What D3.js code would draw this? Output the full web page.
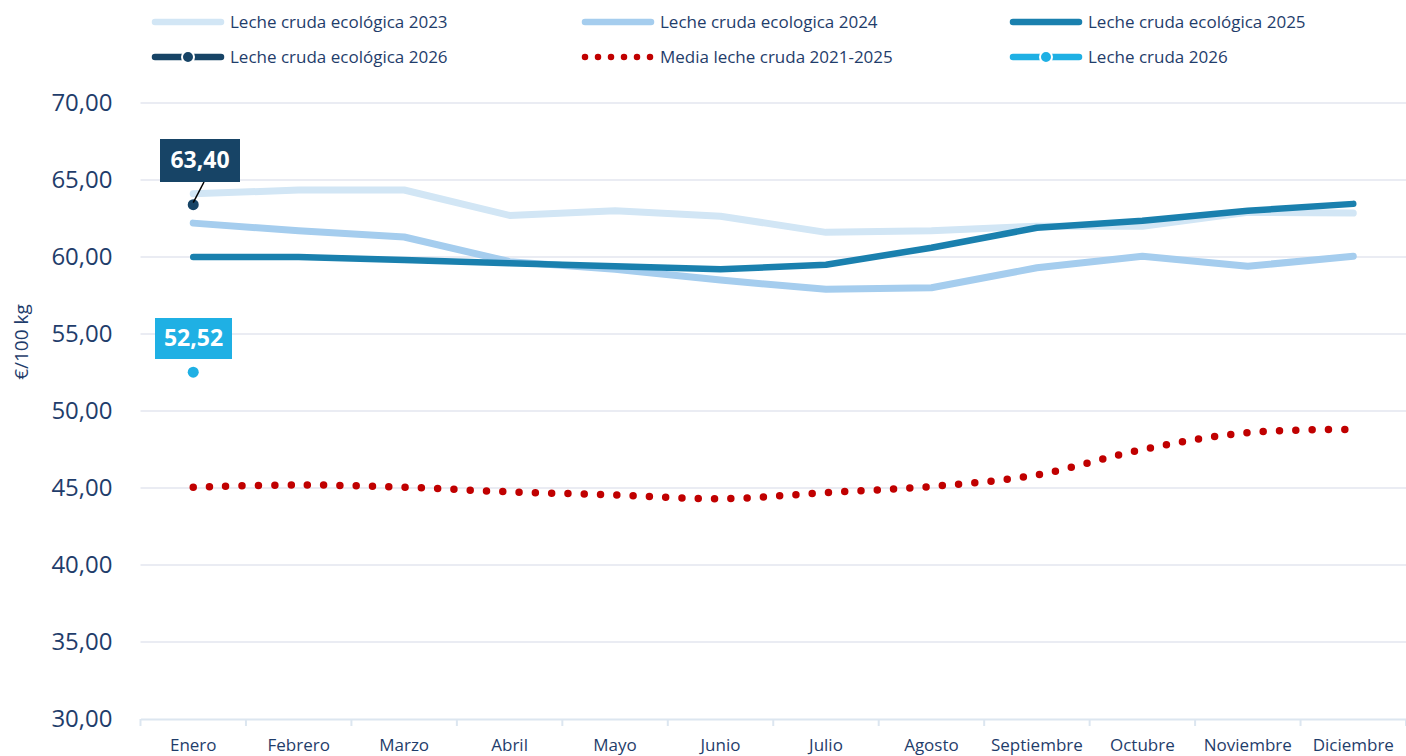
<!DOCTYPE html>
<html>
<head>
<meta charset="utf-8">
<script src="https://cdn.jsdelivr.net/npm/d3@7"></script>
<style>
  body { margin: 0; background: #fff; }
  text { font-family: "Open Sans", "Noto Sans", sans-serif; }
</style>
</head>
<body>
<svg id="chart"></svg>
<script>
//data
var months = ["Enero", "Febrero", "Marzo", "Abril", "Mayo", "Junio", "Julio",
              "Agosto", "Septiembre", "Octubre", "Noviembre", "Diciembre"];
var eco2023 = [64.1, 64.35, 64.35, 62.7, 63.0, 62.65, 61.6, 61.7, 62.0, 62.0, 62.9, 62.85];
var eco2024 = [62.2, 61.7, 61.3, 59.7, 59.2, 58.5, 57.9, 58.0, 59.3, 60.05, 59.4, 60.05];
var eco2025 = [60.0, 60.0, 59.8, 59.6, 59.4, 59.2, 59.5, 60.6, 61.9, 62.35, 63.0, 63.45];
var media2125 = [45.05, 45.2, 45.05, 44.75, 44.55, 44.3, 44.7, 45.1, 45.85, 47.5, 48.6, 48.8];
var eco2026 = [63.40];
var cruda2026 = [52.52];
var yTicks = [30, 35, 40, 45, 50, 55, 60, 65, 70];

var W = 1406, H = 756;
var margin = {top: 103, right: 0, bottom: 37, left: 140.5},
    width = W - margin.left - margin.right,
    height = H - margin.top - margin.bottom;

var textCol = "#1f3d6b";
var fmt = function(v) { return v.toFixed(2).replace(".", ","); };

var svgtop = d3.select("#chart").attr("width", W).attr("height", H);
var svg = svgtop.append("g")
	.attr("transform", "translate(" + margin.left + "," + margin.top + ")");

var xScale = d3.scaleBand().domain(months).range([0, width]);
var yScale = d3.scaleLinear().domain([30, 70]).range([height, 0]);
var xc = function(i) { return xScale(months[i]) + xScale.bandwidth() / 2; };

//gridlines
svg.selectAll(".grid")
	.data(yTicks.filter(function(d) { return d > 30; }))
	.enter().append("line")
	.attr("x1", 0).attr("x2", width)
	.attr("y1", function(d) { return yScale(d); })
	.attr("y2", function(d) { return yScale(d); })
	.attr("stroke", "#d6d9e8").attr("stroke-width", 1.2);

//y axis labels
var yAxis = svg.append("g")
	.call(d3.axisLeft(yScale).tickValues(yTicks).tickFormat(fmt).tickSize(0).tickPadding(28));
yAxis.select(".domain").remove();
yAxis.selectAll("text")
	.attr("fill", textCol)
	.style("font-size", "24px")
	.style("font-family", "'Open Sans', sans-serif");

//x axis
var xAxis = svg.append("g")
	.attr("transform", "translate(0," + height + ")")
	.call(d3.axisBottom(xScale).tickSize(0).tickPadding(20));
xAxis.select(".domain").attr("stroke", "#dce6f0").attr("stroke-width", 2);
xAxis.selectAll("text")
	.attr("fill", textCol)
	.style("font-size", "17px")
	.style("font-family", "'Open Sans', sans-serif");
svg.append("g").selectAll("line")
	.data(d3.range(months.length + 1))
	.enter().append("line")
	.attr("x1", function(i) { return i * xScale.bandwidth(); })
	.attr("x2", function(i) { return i * xScale.bandwidth(); })
	.attr("y1", height).attr("y2", height + 7)
	.attr("stroke", "#dce6f0").attr("stroke-width", 2);

//y title
svgtop.append("text")
	.attr("transform", "translate(28," + 342 + ") rotate(-90)")
	.style("text-anchor", "middle")
	.style("font-size", "19px")
	.attr("fill", textCol)
	.text("€/100 kg");

//lines
var line = d3.line()
	.x(function(d, i) { return xc(i); })
	.y(function(d) { return yScale(d); });

svg.append("path").datum(eco2023)
	.attr("fill", "none").attr("stroke", "#d2e6f5").attr("stroke-width", 7)
	.attr("stroke-linecap", "round").attr("stroke-linejoin", "round")
	.attr("d", line);
svg.append("path").datum(eco2024)
	.attr("fill", "none").attr("stroke", "#a5cdee").attr("stroke-width", 7)
	.attr("stroke-linecap", "round").attr("stroke-linejoin", "round")
	.attr("d", line);
svg.append("path").datum(eco2025)
	.attr("fill", "none").attr("stroke", "#1a80ae").attr("stroke-width", 6.5)
	.attr("stroke-linecap", "round").attr("stroke-linejoin", "round")
	.attr("d", line);

//dotted smooth mean line
svg.append("path").datum(media2125)
	.attr("fill", "none").attr("stroke", "#c00000").attr("stroke-width", 7.5)
	.attr("stroke-linecap", "round").attr("stroke-dasharray", "0 16.3")
	.attr("d", line.curve(d3.curveCatmullRom.alpha(0.5)));

//2026 points
svg.append("circle").attr("cx", xc(0)).attr("cy", yScale(eco2026[0])).attr("r", 5.5).attr("fill", "#174466");
svg.append("circle").attr("cx", xc(0)).attr("cy", yScale(cruda2026[0])).attr("r", 5.5).attr("fill", "#1fb0e4");

//data labels
function dataLabel(v, bx, by, bw, bh, fill, leader) {
	var g = svgtop.append("g");
	if (leader) {
		g.append("line")
			.attr("x1", margin.left + xc(0)).attr("y1", margin.top + yScale(v) - 2)
			.attr("x2", bx + bw / 2 + 4).attr("y2", by + bh)
			.attr("stroke", "#000").attr("stroke-width", 1.5);
	}
	g.append("rect").attr("x", bx).attr("y", by).attr("width", bw).attr("height", bh).attr("fill", fill);
	g.append("text")
		.attr("x", bx + bw / 2).attr("y", by + bh / 2 + 1)
		.attr("text-anchor", "middle").attr("dominant-baseline", "middle")
		.attr("fill", "#fff").style("font-size", "23px").style("font-weight", "bold")
		.text(fmt(v));
}
dataLabel(eco2026[0], 160, 139, 80, 43, "#174466", true);
dataLabel(cruda2026[0], 155, 318, 77, 41, "#1fb0e4", false);

//legend
var legend = [
	{name: "Leche cruda ecológica 2023", color: "#d2e6f5", type: "line", x: 152, y: 22},
	{name: "Leche cruda ecologica 2024", color: "#a5cdee", type: "line", x: 582, y: 22},
	{name: "Leche cruda ecológica 2025", color: "#1a80ae", type: "line", x: 1010, y: 22},
	{name: "Leche cruda ecológica 2026", color: "#174466", type: "marker", x: 152, y: 57},
	{name: "Media leche cruda 2021-2025", color: "#c00000", type: "dots", x: 582, y: 57},
	{name: "Leche cruda 2026", color: "#1fb0e4", type: "marker", x: 1010, y: 57}
];
var leg = svgtop.append("g").selectAll("g").data(legend).enter().append("g")
	.attr("transform", function(d) { return "translate(" + d.x + "," + d.y + ")"; });
leg.append("line")
	.attr("x1", 3).attr("x2", 69).attr("y1", 0).attr("y2", 0)
	.attr("stroke", function(d) { return d.color; })
	.attr("stroke-width", 6.5)
	.attr("stroke-linecap", "round")
	.attr("stroke-dasharray", function(d) { return d.type == "dots" ? "0 13" : null; });
leg.filter(function(d) { return d.type == "marker"; }).append("circle")
	.attr("cx", 36).attr("cy", 0).attr("r", 6)
	.attr("fill", function(d) { return d.color; })
	.attr("stroke", "#fff").attr("stroke-width", 2);
leg.append("text")
	.attr("x", 78)
	.attr("y", 0).attr("dy", "0.35em")
	.attr("fill", textCol).style("font-size", "17px")
	.text(function(d) { return d.name; });
</script>
</body>
</html>
